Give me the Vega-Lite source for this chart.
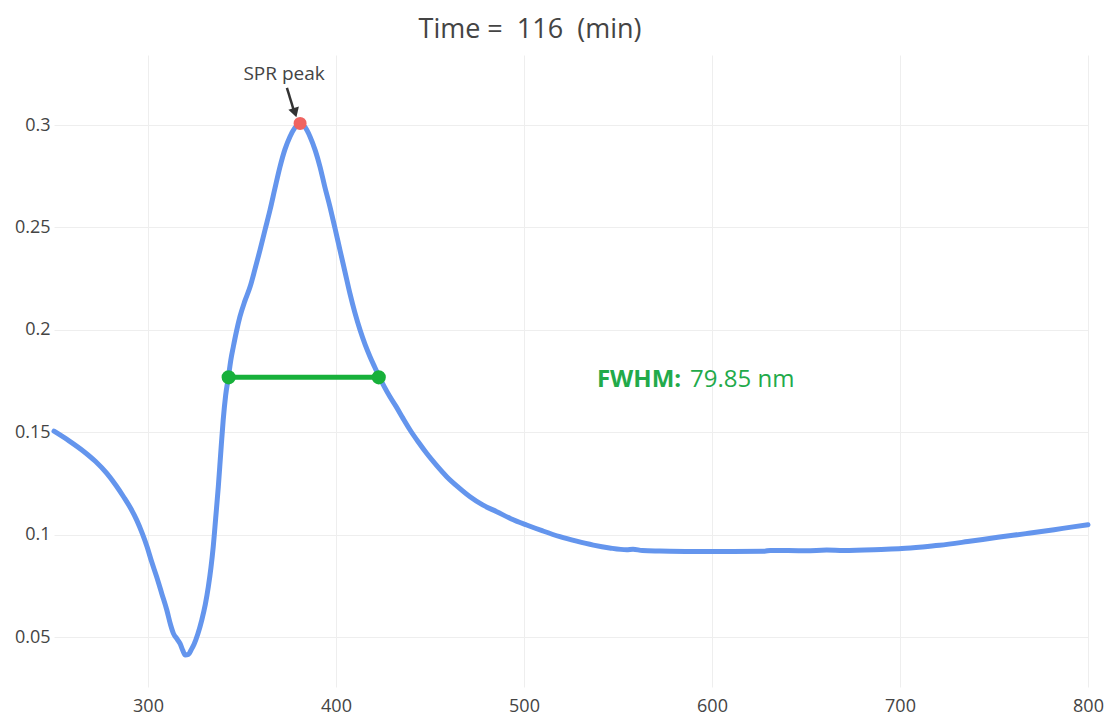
{
  "$schema": "https://vega.github.io/schema/vega-lite/v6.json",
  "width": 1034,
  "height": 632,
  "autosize": {"type": "none"},
  "padding": {"left": 54, "top": 55, "right": 17, "bottom": 28},
  "background": "white",
  "title": {
    "text": "Time = \u00a0116 \u00a0(min)",
    "font": "Open Sans",
    "fontSize": 27,
    "fontWeight": "normal",
    "color": "#444444",
    "anchor": "middle",
    "frame": "group",
    "baseline": "alphabetic",
    "offset": -10,
    "dx": -41
  },
  "config": {
    "view": {"stroke": null},
    "font": "Open Sans",
    "axis": {
      "domain": false,
      "ticks": false,
      "gridColor": "#eeeeee",
      "gridWidth": 1,
      "labelFont": "Open Sans",
      "labelFontSize": 18,
      "labelColor": "#444444",
      "title": null
    }
  },
  "datasets": {
    "spectrum": [
      {"wavelength": 250, "intensity": 0.1505},
      {"wavelength": 258, "intensity": 0.1458},
      {"wavelength": 266, "intensity": 0.1405},
      {"wavelength": 272, "intensity": 0.1358},
      {"wavelength": 278, "intensity": 0.1300},
      {"wavelength": 283, "intensity": 0.1240},
      {"wavelength": 287, "intensity": 0.1185},
      {"wavelength": 291, "intensity": 0.1125},
      {"wavelength": 294, "intensity": 0.1071},
      {"wavelength": 297, "intensity": 0.1005},
      {"wavelength": 299.5, "intensity": 0.0941},
      {"wavelength": 302, "intensity": 0.0866},
      {"wavelength": 304.6, "intensity": 0.0794},
      {"wavelength": 307.3, "intensity": 0.0713},
      {"wavelength": 310, "intensity": 0.0632},
      {"wavelength": 312, "intensity": 0.0560},
      {"wavelength": 313.5, "intensity": 0.0518},
      {"wavelength": 315.5, "intensity": 0.0490},
      {"wavelength": 317, "intensity": 0.0469},
      {"wavelength": 318.5, "intensity": 0.0435},
      {"wavelength": 319.8, "intensity": 0.0412},
      {"wavelength": 321.5, "intensity": 0.0415},
      {"wavelength": 323, "intensity": 0.0438},
      {"wavelength": 324.5, "intensity": 0.0465},
      {"wavelength": 326.5, "intensity": 0.0515},
      {"wavelength": 328.6, "intensity": 0.0583},
      {"wavelength": 330.5, "intensity": 0.0660},
      {"wavelength": 332.1, "intensity": 0.0746},
      {"wavelength": 333.5, "intensity": 0.0840},
      {"wavelength": 334.7, "intensity": 0.0941},
      {"wavelength": 336, "intensity": 0.1080},
      {"wavelength": 337.4, "intensity": 0.1234},
      {"wavelength": 338.7, "intensity": 0.1400},
      {"wavelength": 340, "intensity": 0.1560},
      {"wavelength": 341.3, "intensity": 0.1680},
      {"wavelength": 342.8, "intensity": 0.1771},
      {"wavelength": 344, "intensity": 0.1850},
      {"wavelength": 345.4, "intensity": 0.1918},
      {"wavelength": 347, "intensity": 0.1990},
      {"wavelength": 348.9, "intensity": 0.2064},
      {"wavelength": 351.5, "intensity": 0.2140},
      {"wavelength": 354.3, "intensity": 0.2210},
      {"wavelength": 357, "intensity": 0.2300},
      {"wavelength": 359.6, "intensity": 0.2390},
      {"wavelength": 362.3, "intensity": 0.2490},
      {"wavelength": 364.9, "intensity": 0.2585},
      {"wavelength": 367.5, "intensity": 0.2690},
      {"wavelength": 370.2, "intensity": 0.2796},
      {"wavelength": 372.8, "intensity": 0.2880},
      {"wavelength": 375.5, "intensity": 0.2943},
      {"wavelength": 378, "intensity": 0.2985},
      {"wavelength": 380.9, "intensity": 0.3008},
      {"wavelength": 383.5, "intensity": 0.2990},
      {"wavelength": 386.2, "intensity": 0.2943},
      {"wavelength": 389, "intensity": 0.2875},
      {"wavelength": 391.5, "intensity": 0.2796},
      {"wavelength": 394, "intensity": 0.2700},
      {"wavelength": 396.8, "intensity": 0.2600},
      {"wavelength": 399.5, "intensity": 0.2495},
      {"wavelength": 402.1, "intensity": 0.2390},
      {"wavelength": 404.8, "intensity": 0.2282},
      {"wavelength": 407.4, "intensity": 0.2178},
      {"wavelength": 410, "intensity": 0.2085},
      {"wavelength": 412.8, "intensity": 0.1999},
      {"wavelength": 415.5, "intensity": 0.1928},
      {"wavelength": 418.1, "intensity": 0.1869},
      {"wavelength": 420.5, "intensity": 0.1820},
      {"wavelength": 423, "intensity": 0.1771},
      {"wavelength": 425.8, "intensity": 0.1720},
      {"wavelength": 428.7, "intensity": 0.1673},
      {"wavelength": 432, "intensity": 0.1625},
      {"wavelength": 435.5, "intensity": 0.1570},
      {"wavelength": 439.4, "intensity": 0.1511},
      {"wavelength": 443.8, "intensity": 0.1452},
      {"wavelength": 448.2, "intensity": 0.1397},
      {"wavelength": 453.5, "intensity": 0.1338},
      {"wavelength": 458.9, "intensity": 0.1283},
      {"wavelength": 465, "intensity": 0.1232},
      {"wavelength": 471.3, "intensity": 0.1185},
      {"wavelength": 478, "intensity": 0.1145},
      {"wavelength": 485.5, "intensity": 0.1112},
      {"wavelength": 493, "intensity": 0.1078},
      {"wavelength": 501.4, "intensity": 0.1047},
      {"wavelength": 510, "intensity": 0.1018},
      {"wavelength": 519.1, "intensity": 0.0990},
      {"wavelength": 528, "intensity": 0.0968},
      {"wavelength": 536.9, "intensity": 0.0949},
      {"wavelength": 545.5, "intensity": 0.0935},
      {"wavelength": 554.6, "intensity": 0.0926},
      {"wavelength": 558, "intensity": 0.0929},
      {"wavelength": 563, "intensity": 0.0922},
      {"wavelength": 572.3, "intensity": 0.0920},
      {"wavelength": 589, "intensity": 0.0918},
      {"wavelength": 610, "intensity": 0.0918},
      {"wavelength": 628, "intensity": 0.0919},
      {"wavelength": 631, "intensity": 0.0923},
      {"wavelength": 650, "intensity": 0.0921},
      {"wavelength": 661, "intensity": 0.0925},
      {"wavelength": 670, "intensity": 0.0923},
      {"wavelength": 690, "intensity": 0.0928},
      {"wavelength": 701, "intensity": 0.0932},
      {"wavelength": 712, "intensity": 0.0940},
      {"wavelength": 721, "intensity": 0.0948},
      {"wavelength": 736, "intensity": 0.0966},
      {"wavelength": 752, "intensity": 0.0987},
      {"wavelength": 767, "intensity": 0.1005},
      {"wavelength": 782, "intensity": 0.1024},
      {"wavelength": 792, "intensity": 0.1038},
      {"wavelength": 800, "intensity": 0.1048}
    ],
    "fwhm": [
      {"wavelength": 342.9, "intensity": 0.1768},
      {"wavelength": 422.75, "intensity": 0.1768}
    ],
    "peak": [
      {"wavelength": 380.9, "intensity": 0.3008}
    ]
  },
  "encoding": {
    "x": {
      "field": "wavelength",
      "type": "quantitative",
      "scale": {"domain": [250, 800], "nice": false, "zero": false},
      "axis": {"values": [300, 400, 500, 600, 700, 800], "labelPadding": 10, "labelFlush": false}
    },
    "y": {
      "field": "intensity",
      "type": "quantitative",
      "scale": {"domain": [0.0256, 0.3342], "nice": false, "zero": false},
      "axis": {"values": [0.05, 0.1, 0.15, 0.2, 0.25, 0.3], "format": "~g", "labelPadding": 4}
    }
  },
  "layer": [
    {
      "data": {"name": "spectrum"},
      "mark": {"type": "line", "color": "#6495ED", "strokeWidth": 5, "interpolate": "monotone", "strokeJoin": "round", "strokeCap": "round"}
    },
    {
      "data": {"name": "fwhm"},
      "mark": {"type": "line", "color": "#17b03a", "strokeWidth": 5}
    },
    {
      "data": {"name": "fwhm"},
      "mark": {"type": "point", "filled": true, "color": "#17b03a", "size": 200, "opacity": 1}
    },
    {
      "data": {"name": "peak"},
      "mark": {"type": "point", "filled": true, "color": "#ef6461", "size": 170, "opacity": 1}
    },
    {
      "data": {"name": "peak"},
      "mark": {"type": "rule", "color": "#333333", "strokeWidth": 2.5},
      "encoding": {
        "x": {"datum": 373.9, "type": "quantitative"},
        "x2": {"datum": 378.0},
        "y": {"datum": 0.3181, "type": "quantitative"},
        "y2": {"datum": 0.3058}
      }
    },
    {
      "data": {"name": "peak"},
      "mark": {"type": "point", "shape": "triangle-down", "filled": true, "color": "#333333", "size": 120, "angle": 343, "opacity": 1},
      "encoding": {
        "x": {"datum": 378.2, "type": "quantitative"},
        "y": {"datum": 0.3060, "type": "quantitative"}
      }
    },
    {
      "data": {"name": "peak"},
      "mark": {"type": "text", "text": "SPR peak", "fontSize": 19, "color": "#444444", "align": "center", "baseline": "middle", "dx": -16, "dy": -49}
    },
    {
      "data": {"name": "peak"},
      "mark": {"type": "text", "text": "FWHM:", "fontSize": 24, "fontWeight": "bold", "color": "#22aa4a", "align": "left", "baseline": "middle"},
      "encoding": {
        "x": {"datum": 538.8, "type": "quantitative"},
        "y": {"datum": 0.1755, "type": "quantitative"}
      }
    },
    {
      "data": {"name": "peak"},
      "mark": {"type": "text", "text": "79.85 nm", "fontSize": 24, "color": "#22aa4a", "align": "left", "baseline": "middle"},
      "encoding": {
        "x": {"datum": 588.3, "type": "quantitative"},
        "y": {"datum": 0.1755, "type": "quantitative"}
      }
    }
  ]
}
